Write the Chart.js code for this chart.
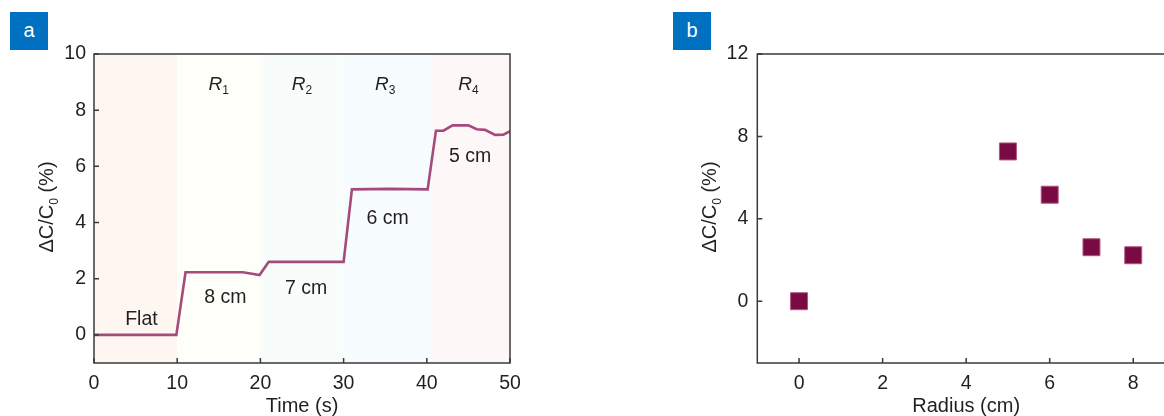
<!DOCTYPE html>
<html>
<head>
<meta charset="utf-8">
<script src="https://cdn.jsdelivr.net/npm/chart.js@4.4.1/dist/chart.umd.min.js"></script>
<style>
  html, body { margin: 0; padding: 0; background: #fff; width: 1164px; height: 416px; overflow: hidden; font-family: "Liberation Sans", Arial, sans-serif; }
  .panel { position: absolute; top: 0; }
  .tag { position: absolute; top: 12px; width: 38px; height: 38px; background: #0070c0; color: #fff; font-size: 20px; line-height: 36px; text-align: center; z-index: 2; }
</style>
</head>
<body>
<div class="panel" style="left:0;width:540px;height:416px"><canvas id="ca" width="540" height="416"></canvas></div>
<div class="panel" style="left:660px;width:530px;height:416px"><canvas id="cb" width="530" height="416"></canvas></div>
<div class="tag" style="left:10px">a</div>
<div class="tag" style="left:673px">b</div>
<script>
/* Panel a: capacitance change vs time while bending to radii R1..R4; panel b: change vs radius. */

// ---- panel a data ----
const timeS = [0, 9.9, 11.0, 17.9, 19.9, 21.0, 30.0, 31.0, 35.5, 40.1, 41.1, 42.0, 43.1, 45.0, 46.0, 47.0, 48.2, 49.2, 50];
const dcTime = [0, 0, 2.23, 2.23, 2.13, 2.6, 2.6, 5.18, 5.2, 5.18, 7.27, 7.27, 7.46, 7.46, 7.32, 7.30, 7.12, 7.13, 7.25];
const bandEdges = [0, 10, 20, 30, 40.5, 50];
const regionSubs = ["1", "2", "3", "4"];
const regionX = [15, 25, 35, 45];
const regionY = 8.95;
const stepLabels = ["Flat", "8 cm", "7 cm", "6 cm", "5 cm"];
const stepX = [5.7, 15.8, 25.5, 35.3, 45.2];
const stepY = [0.6, 1.4, 1.7, 4.2, 6.4];
const xTicksA = [0, 10, 20, 30, 40, 50];
const yTicksA = [0, 2, 4, 6, 8, 10];

// ---- panel b data ----
const radiusCm = [0, 5, 6, 7, 8];
const dcRadius = [0, 7.27, 5.17, 2.62, 2.23];
const xTicksB = [0, 2, 4, 6, 8];
const yTicksB = [0, 4, 8, 12];

const FONT = '"Liberation Sans", Arial, sans-serif';
const INK = "#231f20";
const AXIS = "#3a3a3a";
const bandColors = ["#fef6f1", "#fffffa", "#f8fdfb", "#f7fcfe", "#fef7f7"];

Chart.defaults.font.family = FONT;
Chart.defaults.color = INK;

// draws a run of [text, style] parts; style n = normal, i = italic, s = subscript
function partFont(st, size) {
  if (st === "i") return `italic ${size}px ${FONT}`;
  if (st === "s") return `${Math.round(size * 0.62)}px ${FONT}`;
  return `${size}px ${FONT}`;
}
function richWidth(ctx, parts, size) {
  let w = 0;
  parts.forEach(([t, st]) => { ctx.font = partFont(st, size); w += ctx.measureText(t).width; });
  return w;
}
function richDraw(ctx, parts, size, x, baseline) {
  let cx = x;
  parts.forEach(([t, st]) => {
    ctx.font = partFont(st, size);
    ctx.fillText(t, cx, st === "s" ? baseline + size * 0.22 : baseline);
    cx += ctx.measureText(t).width;
  });
}
const yTitleParts = [["ΔC/C", "n"], ["0", "s"], [" (%)", "n"]];

// frame + inward tick marks + rotated y title
const frame = {
  id: "frame",
  afterDraw(chart, args, opts) {
    const { ctx, chartArea: a, scales } = chart;
    ctx.save();
    ctx.strokeStyle = AXIS;
    ctx.lineWidth = 1.5;
    ctx.beginPath();
    scales.x.ticks.forEach((t) => {
      const px = scales.x.getPixelForValue(t.value);
      ctx.moveTo(px, a.bottom); ctx.lineTo(px, a.bottom - 5);
    });
    scales.y.ticks.forEach((t) => {
      const py = scales.y.getPixelForValue(t.value);
      ctx.moveTo(a.left, py); ctx.lineTo(a.left + 5, py);
    });
    ctx.stroke();
    ctx.strokeRect(a.left, a.top, a.right - a.left, a.bottom - a.top);
    // y title
    const size = 20;
    ctx.fillStyle = INK;
    ctx.textBaseline = "alphabetic";
    ctx.textAlign = "left";
    ctx.translate(opts.titleX, (a.top + a.bottom) / 2 - 1.5);
    ctx.rotate(-Math.PI / 2);
    const w = richWidth(ctx, yTitleParts, size);
    richDraw(ctx, yTitleParts, size, -w / 2, size * 0.36);
    ctx.restore();
  }
};

// coloured bands behind the trace, plus region and step labels
const bands = {
  id: "bands",
  beforeDatasetsDraw(chart) {
    const { ctx, chartArea: a, scales: { x } } = chart;
    ctx.save();
    for (let i = 0; i < bandEdges.length - 1; i++) {
      const x0 = x.getPixelForValue(bandEdges[i]), x1 = x.getPixelForValue(bandEdges[i + 1]);
      ctx.fillStyle = bandColors[i];
      ctx.fillRect(x0, a.top, x1 - x0, a.bottom - a.top);
    }
    ctx.restore();
  },
  afterDatasetsDraw(chart) {
    const { ctx, scales: { x, y } } = chart;
    ctx.save();
    ctx.fillStyle = INK;
    ctx.textAlign = "left";
    ctx.textBaseline = "alphabetic";
    regionSubs.forEach((s, i) => {
      const parts = [["R", "i"], [s, "s"]];
      const w = richWidth(ctx, parts, 19);
      richDraw(ctx, parts, 19, x.getPixelForValue(regionX[i]) - w / 2, y.getPixelForValue(regionY) + 6.7);
    });
    ctx.font = `19.5px ${FONT}`;
    ctx.textAlign = "center";
    stepLabels.forEach((s, i) => {
      ctx.fillText(s, x.getPixelForValue(stepX[i]), y.getPixelForValue(stepY[i]) + 7);
    });
    ctx.restore();
  }
};

const setTicks = (arr) => (s) => { s.ticks = arr.map((v) => ({ value: v })); };
const tickFont = { size: 19.5 };
const xTitle = (text) => ({ display: true, text, color: INK, font: { size: 20, lineHeight: 1 }, padding: 0 });

new Chart(document.getElementById("ca"), {
  type: "line",
  data: { datasets: [{
    data: timeS.map((t, i) => ({ x: t, y: dcTime[i] })),
    borderColor: "#a64a7c", borderWidth: 2.6, pointRadius: 0, tension: 0, fill: false
  }] },
  plugins: [bands, frame],
  options: {
    responsive: false, animation: false, devicePixelRatio: 1,
    layout: { padding: { top: 54, right: 30, bottom: 0, left: 0 } },
    plugins: { legend: { display: false }, tooltip: { enabled: false }, frame: { titleX: 46 } },
    scales: {
      x: { type: "linear", min: 0, max: 50, afterBuildTicks: setTicks(xTicksA), afterFit: (s) => { s.height = 53; },
        grid: { display: false, drawTicks: false }, border: { display: false },
        ticks: { padding: 9, font: tickFont, maxRotation: 0, autoSkip: false }, title: xTitle("Time (s)") },
      y: { type: "linear", min: -1, max: 10, afterBuildTicks: setTicks(yTicksA), afterFit: (s) => { s.width = 94; },
        grid: { display: false, drawTicks: false }, border: { display: false },
        ticks: { padding: 8, font: tickFont, autoSkip: false } }
    }
  }
});

new Chart(document.getElementById("cb"), {
  type: "scatter",
  data: { datasets: [{
    data: radiusCm.map((r, i) => ({ x: r, y: dcRadius[i] })),
    pointStyle: "rect", pointRadius: 12, backgroundColor: "#7a0a43", borderColor: "#b25580", borderWidth: 1
  }] },
  plugins: [frame],
  options: {
    responsive: false, animation: false, devicePixelRatio: 1,
    layout: { padding: { top: 54, right: 15, bottom: 0, left: 0 } },
    plugins: { legend: { display: false }, tooltip: { enabled: false }, frame: { titleX: 49 } },
    scales: {
      x: { type: "linear", min: -1, max: 9, afterBuildTicks: setTicks(xTicksB), afterFit: (s) => { s.height = 53; },
        grid: { display: false, drawTicks: false }, border: { display: false },
        ticks: { padding: 9, font: tickFont, maxRotation: 0, autoSkip: false }, title: xTitle("Radius (cm)") },
      y: { type: "linear", min: -3, max: 12, afterBuildTicks: setTicks(yTicksB), afterFit: (s) => { s.width = 97.3; },
        grid: { display: false, drawTicks: false }, border: { display: false },
        ticks: { padding: 9, font: tickFont, autoSkip: false } }
    }
  }
});
</script>
</body>
</html>
